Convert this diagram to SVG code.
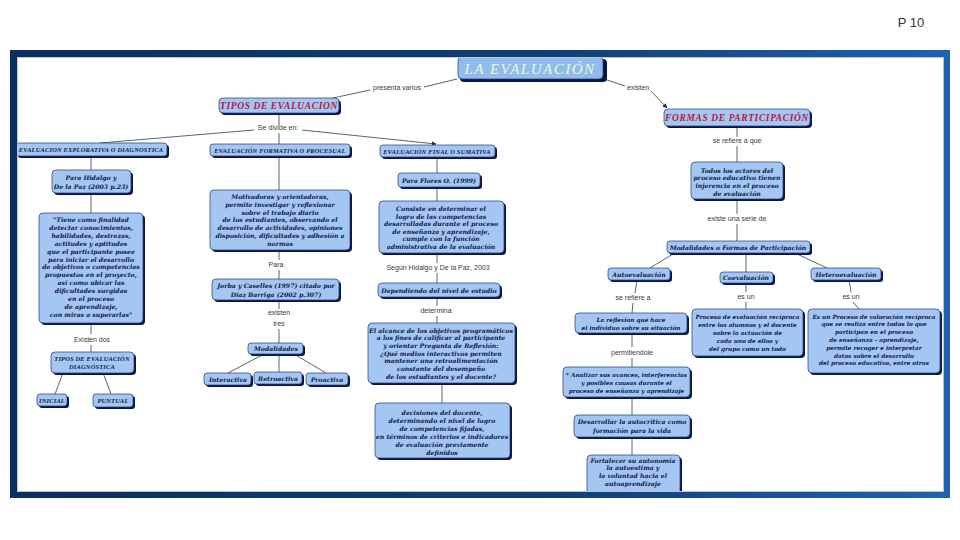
<svg xmlns="http://www.w3.org/2000/svg" width="960" height="540" viewBox="0 0 960 540">
<defs>
<linearGradient id="fr" x1="0" y1="0" x2="1" y2="0">
<stop offset="0" stop-color="#0a2f5f"/>
<stop offset="0.6" stop-color="#123f78"/>
<stop offset="1" stop-color="#1e62b2"/>
</linearGradient>
<marker id="ar" viewBox="0 0 10 10" refX="9" refY="5" markerWidth="6" markerHeight="6" orient="auto">
<path d="M0,0 L10,5 L0,10 z" fill="#1a2a5a"/>
</marker>
<style>
.sh{fill:#0b1646}
.nd{fill:#a3c6f3;stroke:#24376e;stroke-width:0.7}
.t{font-family:"DejaVu Serif",serif;font-style:italic;font-weight:bold;font-size:6.2px;fill:#0e1a48;text-anchor:middle}
.s{font-size:5.75px}
.h{font-family:"Liberation Serif",serif;font-style:italic;font-weight:bold;font-size:6.4px;fill:#0e1a48;text-anchor:middle;letter-spacing:0.2px}
.r{font-family:"Liberation Serif",serif;font-style:italic;font-weight:bold;font-size:9.5px;fill:#c0143c;text-anchor:middle;letter-spacing:0.6px}
.l{font-family:"Liberation Sans",sans-serif;font-size:7px;fill:#3a3a3a;text-anchor:middle}
.c{stroke:#3a3a4a;stroke-width:0.8;fill:none}
</style>
</defs>
<rect x="0" y="0" width="960" height="540" fill="#ffffff"/>
<text x="911" y="27" font-family="Liberation Sans, sans-serif" font-size="13" fill="#333" text-anchor="middle">P 10</text>

<g id="connectors">
<line class="c" x1="457" y1="79" x2="424" y2="87"/>
<line class="c" x1="370" y1="90" x2="333" y2="98"/>
<text class="l" x="397" y="90">presenta varios</text>
<line class="c" x1="604" y1="79" x2="625" y2="86"/>
<line class="c" x1="651" y1="91" x2="667" y2="108" marker-end="url(#ar)"/>
<text class="l" x="638" y="90">existen</text>
<line class="c" x1="279" y1="113" x2="279" y2="126"/>
<text class="l" x="278" y="130">Se divide en:</text>
<line class="c" x1="279" y1="133" x2="279" y2="144"/>
<line class="c" x1="254" y1="130" x2="100" y2="143"/>
<line class="c" x1="302" y1="130" x2="436" y2="144" marker-end="url(#ar)"/>
<line class="c" x1="91" y1="156" x2="91" y2="170"/>
<line class="c" x1="91" y1="193" x2="91" y2="213"/>
<line class="c" x1="91" y1="323" x2="91" y2="334"/>
<text class="l" x="92" y="342">Existen dos</text>
<line class="c" x1="91" y1="345" x2="91" y2="352"/>
<line class="c" x1="63" y1="373" x2="55" y2="394"/>
<line class="c" x1="103" y1="373" x2="111" y2="394"/>
<line class="c" x1="279" y1="156" x2="279" y2="190"/>
<line class="c" x1="279" y1="250" x2="279" y2="260"/>
<text class="l" x="276" y="267">Para</text>
<line class="c" x1="279" y1="270" x2="279" y2="279"/>
<line class="c" x1="279" y1="300" x2="279" y2="309"/>
<text class="l" x="279" y="315">existen</text>
<text class="l" x="279" y="326">tres</text>
<line class="c" x1="279" y1="329" x2="279" y2="343"/>
<line class="c" x1="264" y1="354" x2="228" y2="373"/>
<line class="c" x1="279" y1="354" x2="279" y2="372"/>
<line class="c" x1="294" y1="354" x2="326" y2="373"/>
<line class="c" x1="437" y1="157" x2="437" y2="173"/>
<line class="c" x1="437" y1="187" x2="437" y2="201"/>
<line class="c" x1="437" y1="253" x2="437" y2="263"/>
<text class="l" x="438" y="270">Según Hidalgo y De la Paz, 2003</text>
<line class="c" x1="437" y1="273" x2="437" y2="283"/>
<line class="c" x1="437" y1="297" x2="437" y2="306"/>
<text class="l" x="436" y="313">determina</text>
<line class="c" x1="437" y1="316" x2="437" y2="323"/>
<line class="c" x1="442" y1="383" x2="442" y2="403"/>
<line class="c" x1="737" y1="126" x2="737" y2="137"/>
<text class="l" x="737" y="143">se refiere a que</text>
<line class="c" x1="737" y1="146" x2="737" y2="162"/>
<line class="c" x1="737" y1="199" x2="737" y2="214"/>
<text class="l" x="737" y="221">existe una serie de</text>
<line class="c" x1="737" y1="224" x2="737" y2="241"/>
<line class="c" x1="673" y1="254" x2="650" y2="268"/>
<line class="c" x1="746" y1="253" x2="746" y2="272"/>
<line class="c" x1="795" y1="253" x2="827" y2="268"/>
<line class="c" x1="637" y1="280" x2="635" y2="293"/>
<text class="l" x="633" y="300">se refiere a</text>
<line class="c" x1="633" y1="303" x2="632" y2="313"/>
<line class="c" x1="746" y1="283" x2="746" y2="292"/>
<text class="l" x="746" y="299">es un</text>
<line class="c" x1="746" y1="302" x2="746" y2="309"/>
<line class="c" x1="849" y1="280" x2="851" y2="292"/>
<text class="l" x="851" y="299">es un</text>
<line class="c" x1="853" y1="302" x2="859" y2="309"/>
<line class="c" x1="632" y1="333" x2="632" y2="347"/>
<text class="l" x="632" y="355">permitiendole</text>
<line class="c" x1="632" y1="358" x2="632" y2="367"/>
<line class="c" x1="632" y1="397" x2="632" y2="415"/>
<line class="c" x1="632" y1="437" x2="632" y2="455"/>
</g>

<g id="la-evaluacion">
<rect class="sh" x="460" y="59" width="147" height="23" rx="4"/>
<rect x="458" y="57" width="145" height="22" rx="4" fill="#8fbbef" stroke="#24376e" stroke-width="0.7"/>
<text x="530" y="74" font-family="Liberation Serif, serif" font-style="italic" font-size="15" fill="#f2f8c4" text-anchor="middle" letter-spacing="1.5">LA EVALUACIÓN</text>
</g>
<g id="tipos">
<rect class="sh" x="221" y="100" width="120" height="15" rx="4"/>
<rect class="nd" x="219" y="98" width="120" height="15" rx="4"/>
<text class="r" x="279" y="109">TIPOS DE EVALUACION</text>
</g>
<g id="formas">
<rect class="sh" x="666" y="111" width="146" height="17" rx="4"/>
<rect class="nd" x="664" y="109" width="146" height="17" rx="4"/>
<text class="r" x="737" y="121">FORMAS DE PARTICIPACIÓN</text>
</g>

<g id="explorativa">
<rect class="sh" x="18" y="145" width="151" height="13" rx="3"/>
<rect class="nd" x="16" y="143" width="151" height="13" rx="3"/>
<text class="h" x="91" y="152">EVALUACION EXPLORATIVA O DIAGNOSTICA</text>
</g>
<g id="para-hidalgo">
<rect class="sh" x="54" y="172" width="79" height="23" rx="4"/>
<rect class="nd" x="52" y="170" width="79" height="23" rx="4"/>
<text class="t" x="91" y="180">Para Hidalgo y</text>
<text class="t" x="91" y="189">De la Paz (2003 p.23)</text>
</g>
<g id="finalidad">
<rect class="sh" x="41" y="215" width="104" height="110" rx="4"/>
<rect class="nd" x="39" y="213" width="104" height="110" rx="4"/>
<text class="t" x="91" y="222"><tspan x="91">"Tiene como finalidad</tspan><tspan x="91" dy="7.9">detectar conocimientos,</tspan><tspan x="91" dy="7.9">habilidades, destrezas,</tspan><tspan x="91" dy="7.9">actitudes y aptitudes</tspan><tspan x="91" dy="7.9">que el participante posee</tspan><tspan x="91" dy="7.9">para iniciar el desarrollo</tspan><tspan x="91" dy="7.9">de objetivos o competencias</tspan><tspan x="91" dy="7.9">propuestos en el proyecto,</tspan><tspan x="91" dy="7.9">así como ubicar las</tspan><tspan x="91" dy="7.9">dificultades surgidas</tspan><tspan x="91" dy="7.9">en el proceso</tspan><tspan x="91" dy="7.9">de aprendizaje,</tspan><tspan x="91" dy="7.9">con miras a superarlas"</tspan></text>
</g>
<g id="tipos-diagnostica">
<rect class="sh" x="53" y="354" width="83" height="21" rx="4"/>
<rect class="nd" x="51" y="352" width="83" height="21" rx="4"/>
<text class="h" x="92" y="361">TIPOS DE EVALUACIÓN</text>
<text class="h" x="92" y="369">DIAGNÓSTICA</text>
</g>
<g id="inicial">
<rect class="sh" x="39" y="396" width="30" height="12" rx="3"/>
<rect class="nd" x="37" y="394" width="30" height="12" rx="3"/>
<text class="h" x="52" y="402.5">INICIAL</text>
</g>
<g id="puntual">
<rect class="sh" x="95" y="396" width="40" height="13" rx="3"/>
<rect class="nd" x="93" y="394" width="40" height="13" rx="3"/>
<text class="h" x="113" y="403">PUNTUAL</text>
</g>

<g id="formativa">
<rect class="sh" x="212" y="146" width="140" height="12" rx="3"/>
<rect class="nd" x="210" y="144" width="140" height="12" rx="3"/>
<text class="h" x="280" y="152.5">EVALUACIÓN FORMATIVA O PROCESUAL</text>
</g>
<g id="motivadoras">
<rect class="sh" x="212" y="192" width="140" height="60" rx="4"/>
<rect class="nd" x="210" y="190" width="140" height="60" rx="4"/>
<text class="t" x="280" y="199"><tspan x="280">Motivadoras y orientadoras,</tspan><tspan x="280" dy="7.8">permite investigar y reflexionar</tspan><tspan x="280" dy="7.8">sobre el trabajo diario</tspan><tspan x="280" dy="7.8">de los estudiantes, observando el</tspan><tspan x="280" dy="7.8">desarrollo de actividades, opiniones</tspan><tspan x="280" dy="7.8">disposición, dificultades y adhesión a</tspan><tspan x="280" dy="7.8">normas</tspan></text>
</g>
<g id="jorba">
<rect class="sh" x="214" y="281" width="127" height="21" rx="4"/>
<rect class="nd" x="212" y="279" width="127" height="21" rx="4"/>
<text class="t" x="276" y="288">Jorba y Caselles (1997) citado por</text>
<text class="t" x="276" y="296.5">Díaz Barriga (2002 p.307)</text>
</g>
<g id="modalidades">
<rect class="sh" x="250" y="345" width="55" height="11" rx="3"/>
<rect class="nd" x="248" y="343" width="55" height="11" rx="3"/>
<text class="t" x="276" y="351">Modalidades</text>
</g>
<g id="interactiva">
<rect class="sh" x="206" y="375" width="47" height="12" rx="3"/>
<rect class="nd" x="204" y="373" width="47" height="12" rx="3"/>
<text class="t" x="228" y="381.5">Interactiva</text>
</g>
<g id="retroactiva">
<rect class="sh" x="256" y="374" width="48" height="12" rx="3"/>
<rect class="nd" x="254" y="372" width="48" height="12" rx="3"/>
<text class="t" x="278" y="380.5">Retroactiva</text>
</g>
<g id="proactiva">
<rect class="sh" x="308" y="375" width="42" height="12" rx="3"/>
<rect class="nd" x="306" y="373" width="42" height="12" rx="3"/>
<text class="t" x="327" y="381.5">Proactiva</text>
</g>

<g id="final">
<rect class="sh" x="382" y="147" width="115" height="12" rx="3"/>
<rect class="nd" x="380" y="145" width="115" height="12" rx="3"/>
<text class="h" x="437" y="153.5">EVALUACIÓN FINAL O SUMATIVA</text>
</g>
<g id="flores">
<rect class="sh" x="400" y="175" width="82" height="14" rx="3"/>
<rect class="nd" x="398" y="173" width="82" height="14" rx="3"/>
<text class="t" x="439" y="182.5">Para Flores O. (1999)</text>
</g>
<g id="consiste">
<rect class="sh" x="381" y="203" width="125" height="52" rx="4"/>
<rect class="nd" x="379" y="201" width="125" height="52" rx="4"/>
<text class="t" x="441" y="211"><tspan x="441">Consiste en determinar el</tspan><tspan x="441" dy="7.6">logro de las competencias</tspan><tspan x="441" dy="7.6">desarrolladas durante el proceso</tspan><tspan x="441" dy="7.6">de enseñanza y aprendizaje,</tspan><tspan x="441" dy="7.6">cumple con la función</tspan><tspan x="441" dy="7.6">administrativa de la evaluación</tspan></text>
</g>
<g id="dependiendo">
<rect class="sh" x="380" y="285" width="122" height="14" rx="4"/>
<rect class="nd" x="378" y="283" width="122" height="14" rx="4"/>
<text class="t" x="439" y="292.5">Dependiendo del nivel de estudio</text>
</g>
<g id="alcance">
<rect class="sh" x="370" y="325" width="147" height="60" rx="4"/>
<rect class="nd" x="368" y="323" width="147" height="60" rx="4"/>
<text class="t" x="441" y="332.5"><tspan x="441">El alcance de los objetivos programáticos</tspan><tspan x="441" dy="7.7">a los fines de calificar al participante</tspan><tspan x="441" dy="7.7">y orientar Pregunta de Reflexión:</tspan><tspan x="441" dy="7.7">¿Qué medios interactivos permiten</tspan><tspan x="441" dy="7.7">mantener una retroalimentación</tspan><tspan x="441" dy="7.7">constante del desempeño</tspan><tspan x="441" dy="7.7">de los estudiantes y el docente?</tspan></text>
</g>
<g id="decisiones">
<rect class="sh" x="377" y="405" width="135" height="55" rx="4"/>
<rect class="nd" x="375" y="403" width="135" height="55" rx="4"/>
<text class="t" x="442" y="415"><tspan x="442">decisiones del docente,</tspan><tspan x="442" dy="7.9">determinando el nivel de logro</tspan><tspan x="442" dy="7.9">de competencias fijadas,</tspan><tspan x="442" dy="7.9">en términos de criterios e indicadores</tspan><tspan x="442" dy="7.9">de evaluación previamente</tspan><tspan x="442" dy="7.9">definidos</tspan></text>
</g>

<g id="todos">
<rect class="sh" x="693" y="164" width="92" height="37" rx="4"/>
<rect class="nd" x="691" y="162" width="92" height="37" rx="4"/>
<text class="t" x="737" y="172.5"><tspan x="737">Todos los actores del</tspan><tspan x="737" dy="7.8">proceso educativo tienen</tspan><tspan x="737" dy="7.8">injerencia en el proceso</tspan><tspan x="737" dy="7.8">de evaluación</tspan></text>
</g>
<g id="modalidades-formas">
<rect class="sh" x="669" y="243" width="143" height="12" rx="3"/>
<rect class="nd" x="667" y="241" width="143" height="12" rx="3"/>
<text class="t" x="738" y="249.5">Modalidades o Formas de Participación</text>
</g>
<g id="autoevaluacion">
<rect class="sh" x="610" y="270" width="62" height="12" rx="3"/>
<rect class="nd" x="608" y="268" width="62" height="12" rx="3"/>
<text class="t" x="639" y="276.5">Autoevaluación</text>
</g>
<g id="coevaluacion">
<rect class="sh" x="722" y="274" width="53" height="11" rx="3"/>
<rect class="nd" x="720" y="272" width="53" height="11" rx="3"/>
<text class="t" x="746" y="280">Coevaluación</text>
</g>
<g id="heteroevaluacion">
<rect class="sh" x="813" y="270" width="70" height="12" rx="3"/>
<rect class="nd" x="811" y="268" width="70" height="12" rx="3"/>
<text class="t" x="846" y="276.5">Heteroevaluación</text>
</g>
<g id="reflexion">
<rect class="sh" x="577" y="315" width="112" height="20" rx="4"/>
<rect class="nd" x="575" y="313" width="112" height="20" rx="4"/>
<text class="t s" x="631" y="321.5">La reflexion que hace</text>
<text class="t s" x="631" y="329.5">el individuo sobre su situación</text>
</g>
<g id="analizar">
<rect class="sh" x="565" y="369" width="127" height="30" rx="4"/>
<rect class="nd" x="563" y="367" width="127" height="30" rx="4"/>
<text class="t s" x="626.5" y="376.5"><tspan x="626.5">* Analizar sus avances, interferencias</tspan><tspan x="626.5" dy="8">y posibles causas durante el</tspan><tspan x="626.5" dy="8">proceso de enseñanza y aprendizaje</tspan></text>
</g>
<g id="desarrollar">
<rect class="sh" x="576" y="417" width="116" height="22" rx="4"/>
<rect class="nd" x="574" y="415" width="116" height="22" rx="4"/>
<text class="t" x="632" y="424">Desarrollar la autocrítica como</text>
<text class="t" x="632" y="432.5">formación para la vida</text>
</g>
<g id="fortalecer">
<rect class="sh" x="589" y="457" width="93" height="40" rx="4"/>
<rect class="nd" x="587" y="455" width="93" height="40" rx="4"/>
<text class="t" x="633" y="462.5"><tspan x="633">Fortalecer su autonomía</tspan><tspan x="633" dy="7.8">la autoestima y</tspan><tspan x="633" dy="7.8">la voluntad hacia el</tspan><tspan x="633" dy="7.8">autoaprendizaje</tspan></text>
</g>
<g id="coevaluacion-def">
<rect class="sh" x="694" y="311" width="111" height="47" rx="4"/>
<rect class="nd" x="692" y="309" width="111" height="47" rx="4"/>
<text class="t s" x="747.5" y="318.5"><tspan x="747.5">Proceso de evaluación recíproca</tspan><tspan x="747.5" dy="8">entre los alumnos y el docente</tspan><tspan x="747.5" dy="8">sobre la actuación de</tspan><tspan x="747.5" dy="8">cada uno de ellos y</tspan><tspan x="747.5" dy="8">del grupo como un todo</tspan></text>
</g>
<g id="heteroevaluacion-def">
<rect class="sh" x="810" y="311" width="132" height="64" rx="4"/>
<rect class="nd" x="808" y="309" width="132" height="64" rx="4"/>
<text class="t s" x="874" y="318.5"><tspan x="874">Es un Proceso de valoración recíproca</tspan><tspan x="874" dy="7.8">que se realiza entre todos lo que</tspan><tspan x="874" dy="7.8">participan en el proceso</tspan><tspan x="874" dy="7.8">de enseñanza - aprendizaje,</tspan><tspan x="874" dy="7.8">permite recoger e interpretar</tspan><tspan x="874" dy="7.8">datos sobre el desarrollo</tspan><tspan x="874" dy="7.8">del proceso educativo, entre otros</tspan></text>
</g>

<path d="M10,50 H950 V498 H10 Z M17,57 V492 H944 V57 Z" fill="url(#fr)" fill-rule="evenodd"/>
<rect x="17.5" y="57.5" width="926" height="434" fill="none" stroke="#b8c4d4" stroke-width="1"/>
</svg>
